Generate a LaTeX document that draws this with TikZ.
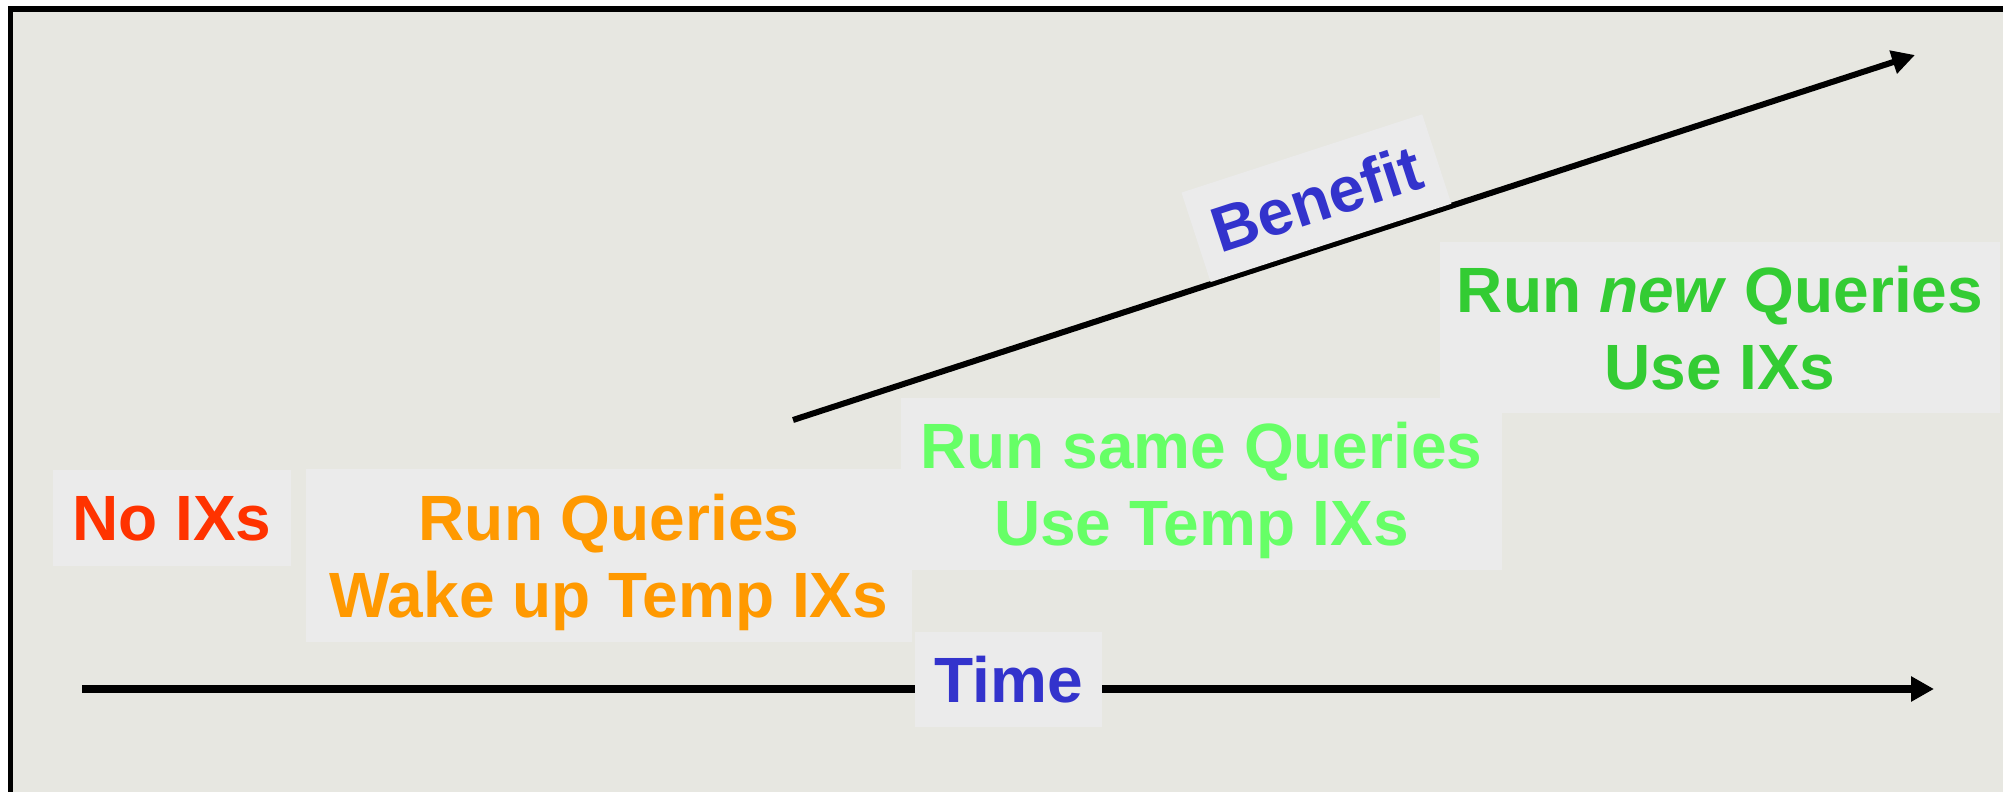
\documentclass[tikz,border=0pt]{standalone}
\usepackage{fontspec}
\setmainfont{Liberation Sans}
\usepackage{tikz}
\usetikzlibrary{arrows.meta, positioning}
\definecolor{slidegray}{RGB}{231,231,225}
\definecolor{labelgray}{RGB}{235,235,235}
\definecolor{noixred}{RGB}{255,51,0}
\definecolor{runorange}{RGB}{255,153,0}
\definecolor{samegreen}{RGB}{102,255,102}
\definecolor{newgreen}{RGB}{51,204,51}
\definecolor{axisblue}{RGB}{51,51,204}
\tikzset{
  lbl/.style={rectangle, fill=labelgray, inner sep=0pt, align=center,
              text depth=0pt, font=\fontsize{18.2}{21.9}\selectfont\bfseries},
  timearr/.style={-{Triangle[length=0.23cm, width=0.24cm]}, line width=0.08cm},
  benarr/.style={-{Triangle[length=0.23cm, width=0.23cm]}, line width=0.06cm}
}

\begin{document}
\begin{tikzpicture}[x=0.01cm, y=-0.01cm]
  \useasboundingbox (0,0) rectangle (2003,792);

  % slide background
  \draw[line width=0.055cm, fill=slidegray] (10.5,9) rectangle (2040,830);

  % time and benefit arrows
  \coordinate (t0) at (82,689);
  \coordinate (t1) at (1934,689);
  \coordinate (b0) at (793,420);
  \coordinate (b1) at (1915,55);
  \draw[timearr] (t0) -- (t1);
  \draw[benarr] (b0) -- (b1)
    node[lbl, pos=0.48, sloped, anchor=south, yshift=-0.01cm,
         minimum width=2.53cm, minimum height=0.94cm, text=axisblue]
    (benefit) {Benefit};

  % phases
  \node[lbl, minimum width=2.38cm, minimum height=0.96cm, text=noixred]
    (noix) at (172,518) {No IXs};
  \node[lbl, minimum width=6.06cm, minimum height=1.73cm, text=runorange]
    (runq) at (609,555.5) {Run Queries\\Wake up Temp IXs};
  \node[lbl, minimum width=6.01cm, minimum height=1.72cm, text=samegreen]
    (runsame) at (1201.5,484) {Run same Queries\\Use Temp IXs};
  \node[lbl, minimum width=5.60cm, minimum height=1.71cm, text=newgreen]
    (runnew) at (1720,327.5) {Run \textit{new} Queries\\Use IXs};

  % axis label
  \node[lbl, minimum width=1.87cm, minimum height=0.95cm, text=axisblue]
    (time) at (1008.5,679.5) {Time};

\end{tikzpicture}
\end{document}
